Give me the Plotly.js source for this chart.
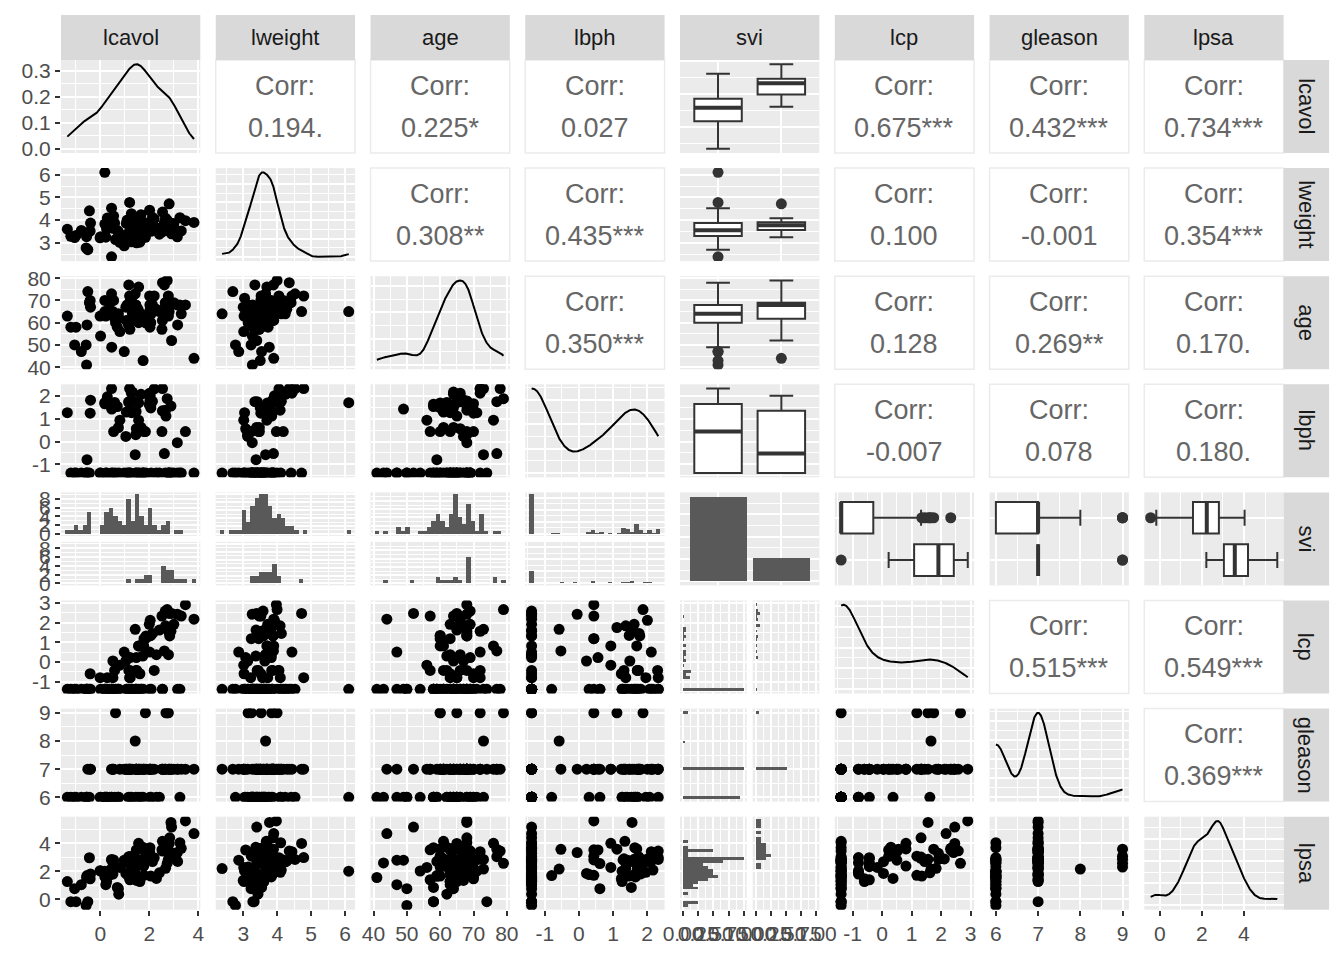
<!DOCTYPE html>
<html><head><meta charset="utf-8">
<script src="https://cdn.plot.ly/plotly-3.0.1.min.js"></script>
<style>html,body{margin:0;padding:0;background:#fff}</style>
</head><body><div id="chart" style="width:1344px;height:960px"></div>
<script>
// ---------------- data (prostate, 97 observations) ----------------
const varNames = ["lcavol","lweight","age","lbph","svi","lcp","gleason","lpsa"];
const lcavol = [-0.5798185,-0.9942523,-0.5108256,-1.2039728,0.7514161,-1.0498221,0.7371641,0.6931472,-0.7765288,0.2231436,
0.2546422,-1.3470736,1.6134299,1.4770487,1.2059708,1.5411591,-0.4155154,2.2884862,-0.5621189,0.1823216,
1.1474025,2.0592388,-0.5447272,1.7817091,0.3852624,1.4469190,0.5128236,-0.4004776,1.0402767,2.4096442,
0.2851789,0.1823216,1.2753628,0.0099503,-0.0100503,1.3083328,1.4231083,0.4574248,2.6609586,0.7975072,
0.6205765,1.4422020,0.5822156,1.7716568,1.4861397,1.6639261,2.7279944,1.1631508,1.7457155,1.2208299,
1.0919233,1.6601310,0.5128236,2.1270405,3.1535904,1.2669476,0.9745596,0.4637340,0.5423243,1.0612565,
0.4574248,1.9974177,2.7757089,2.0347056,2.0731719,1.4586150,2.0228712,2.1983351,-0.4462871,1.1939225,
1.8640801,1.1600209,1.2149127,1.8389611,2.9992262,3.1411305,2.0108950,2.5376572,2.6483924,2.7794402,
1.4678743,2.5136561,2.6130067,2.6775910,1.5623463,3.3028493,2.0241931,1.7316555,2.8075938,1.5623463,
3.2464910,2.5329028,2.8302678,3.8210036,2.9074474,2.8825636,3.4719665];
const lweight = [2.769459,3.319626,2.691243,3.282789,3.432373,3.228826,3.473518,3.539509,3.539509,3.244544,
3.604138,3.598681,3.022861,2.998229,3.442019,3.061052,3.516013,3.649359,3.267666,3.825375,
3.419365,3.501043,3.375880,3.451574,3.667400,3.124565,3.719651,3.865979,3.128951,3.375880,
4.090169,6.107580,3.037354,3.267666,3.216874,4.119850,3.657131,2.374906,4.085136,3.013081,
3.141995,3.682610,3.865979,3.896909,3.409496,3.392829,3.995445,4.035125,3.498022,3.568123,
3.993603,4.234831,3.633631,4.121473,3.516013,4.280132,2.865054,3.764682,4.178226,3.851211,
4.524502,3.719651,3.524889,3.917011,3.623007,3.836221,3.878466,4.050915,4.408547,4.780383,
3.593194,3.341093,3.825375,3.236716,3.849083,3.263849,4.433789,4.354784,3.582129,3.823192,
3.070376,3.473518,3.888754,3.838376,3.709907,3.518980,3.731699,3.369018,4.718052,3.695110,
4.101817,3.677566,3.876396,3.896909,3.396185,3.773910,3.974998];
const age = [50,58,74,58,62,50,64,58,47,63,
65,63,63,67,57,66,70,66,41,70,
59,60,59,63,69,68,65,67,67,65,
65,65,71,54,63,64,73,64,68,56,
60,68,62,61,66,61,79,68,43,70,
68,64,64,68,59,66,47,49,70,61,
73,63,72,66,64,61,68,72,69,72,
60,77,69,60,69,68,72,78,69,63,
66,57,77,65,60,64,58,62,65,76,
68,61,68,44,52,68,68];
const lbph = [-1.386294,-1.386294,-1.386294,-1.386294,-1.386294,-1.386294,0.6151856,1.5368672,-1.386294,-1.386294,
-1.386294,1.2669476,-1.386294,-1.386294,-1.386294,-1.386294,1.2441546,-1.386294,-1.386294,1.6582281,
-1.386294,1.4747630,-0.7985077,0.4382549,1.5993876,0.3001046,-1.386294,1.8164521,0.2231436,-1.386294,
1.9629077,1.7047481,1.2669476,-1.386294,-1.386294,2.1713368,-0.5798185,-1.386294,1.3737156,0.9360934,
-1.386294,-1.386294,1.7137979,-1.386294,1.7491998,0.6151856,1.8794650,1.7137979,-1.386294,1.3737156,
-1.386294,2.0731719,1.4929041,1.7664417,-1.386294,2.1222615,-1.386294,1.4231083,0.4382549,1.2947272,
2.3263016,1.6193882,-1.386294,2.0082140,-1.386294,1.3217558,1.7833912,2.3075726,-1.386294,2.3263016,
-1.386294,1.7491998,-1.386294,0.4382549,-1.386294,-0.0512933,2.1222615,2.3263016,-1.386294,-1.386294,
0.5596158,0.4382549,-0.5276327,1.1151416,1.6956156,-1.386294,1.6389967,-1.386294,-1.386294,0.9360934,
-1.386294,1.3480731,-1.386294,-1.386294,-1.386294,1.5581446,0.4382549];
const svi = [0,0,0,0,0,0,0,0,0,0,
0,0,0,0,0,0,0,0,0,0,
0,0,0,0,0,0,0,0,0,0,
0,0,0,0,0,0,0,0,1,0,
0,0,0,0,0,0,1,0,0,0,
0,0,0,0,0,0,0,0,0,0,
0,1,0,1,0,0,0,0,0,0,
1,0,1,1,1,1,0,0,1,0,
0,0,1,0,0,1,0,1,1,1,
0,1,1,1,1,1,1];
const lcp = [-1.386294,-1.386294,-1.386294,-1.386294,-1.386294,-1.386294,-1.386294,-1.386294,-1.386294,-1.386294,
-1.386294,-1.386294,-0.597837,-1.386294,-0.430783,-1.386294,-0.597837,0.371564,-1.386294,-1.386294,
-1.386294,1.348073,-1.386294,1.178655,-1.386294,-1.386294,-0.798508,-1.386294,0.048790,1.619388,
-0.798508,-1.386294,-1.386294,-1.386294,-0.798508,-1.386294,1.658228,-1.386294,1.832581,-0.162519,
-1.386294,-1.386294,-0.430783,0.810930,-0.430783,-1.386294,2.656757,-0.430783,-1.386294,-0.798508,
-1.386294,-1.386294,0.048790,1.446919,-1.386294,-1.386294,0.500775,-1.386294,-1.386294,-1.386294,
-1.386294,1.909543,1.558145,2.110213,-1.386294,-0.430783,1.321756,-0.430783,-1.386294,-0.798508,
1.321756,-1.386294,0.223144,1.178655,1.909543,2.420368,0.500775,-1.386294,2.583998,0.371564,
0.223144,2.327278,0.558615,1.749200,0.810930,2.327278,-1.386294,0.300105,2.463853,0.810930,
-1.386294,-1.386294,1.321756,2.169054,2.463853,1.558145,2.904165];
const gleason = [6,6,7,6,6,6,6,6,6,6,
6,6,7,7,7,6,7,6,6,6,
6,7,6,7,6,6,7,7,7,6,
6,6,6,6,6,7,8,7,7,7,
9,7,6,7,7,7,9,7,6,6,
7,6,7,7,7,7,7,6,7,7,
6,7,9,7,6,7,7,7,6,7,
7,7,7,9,7,7,7,7,7,7,
7,7,7,9,7,7,6,7,7,7,
6,7,7,7,7,7,7];
const lpsa = [-0.4307829,-0.1625189,-0.1625189,-0.1625189,0.3715636,0.7654678,0.7654678,0.8544153,1.0473190,1.0473190,
1.2669476,1.2669476,1.2669476,1.3480731,1.3987169,1.4469190,1.4701758,1.4929041,1.5581446,1.5993876,
1.6389967,1.6582281,1.6956156,1.7137979,1.7316555,1.7664417,1.8000583,1.8164521,1.8484548,1.8946169,
1.9242487,2.0082140,2.0082140,2.0215476,2.0476928,2.0856721,2.1575593,2.1916535,2.2137539,2.2772673,
2.2975726,2.3075726,2.3272777,2.3749058,2.5217206,2.5533438,2.5687881,2.5687881,2.5915164,2.5915164,
2.6567569,2.6775910,2.6844403,2.6912431,2.7047113,2.7180005,2.7880929,2.7942279,2.8063861,2.8124102,
2.8419982,2.8535925,2.8535925,2.8820035,2.8820035,2.8875901,2.9204698,2.9626924,2.9626924,2.9729753,
3.0130809,3.0373539,3.0563569,3.0750055,3.2752562,3.3375474,3.3928291,3.4355988,3.4578927,3.5130369,
3.5160131,3.5307626,3.5652984,3.5709402,3.5876769,3.6309855,3.6800909,3.7123518,3.9843437,3.9936030,
4.0298060,4.1295508,4.3851468,4.6844434,5.1431245,5.4775090,5.5829322];

// correlation labels of the upper panels
const corrRows = [0,0,0,0,0,0, 1,1,1,1,1, 2,2,2,2, 3,3,3, 5,5, 6];
const corrCols = [1,2,3,5,6,7, 2,3,5,6,7, 3,5,6,7, 5,6,7, 6,7, 7];
const corrText = ["0.194.","0.225*","0.027","0.675***","0.432***","0.734***",
  "0.308**","0.435***","0.100","-0.001","0.354***",
  "0.350***","0.128","0.269**","0.170.",
  "-0.007","0.078","0.180.",
  "0.515***","0.549***",
  "0.369***"];
// tick spacing of each continuous variable's axis
const tickStep = {lcavol:2, lweight:1, age:10, lbph:1, lcp:1, gleason:1, lpsa:2};
const sviLevels = [0,1];
const propLabels = ["0.00","0.25","0.50","0.75","1.00"];

// ---------------- helpers ----------------
const DATA = {lcavol, lweight, age, lbph, svi, lcp, gleason, lpsa};
const W = 1344, H = 960;
const X0 = 61, PITCHX = 154.76, PW = 139.3;
const Y0 = 60, PITCHY = 108.1, PH = 93;
const colL = c => X0 + c*PITCHX;
const rowT = r => Y0 + r*PITCHY;
const FONT = '"Liberation Sans", Arial, Helvetica, sans-serif';
const GRID = '#FFFFFF', PANEL = '#EBEBEB', DARK = '#333333', BAR = '#595959';
const TICKSIZE = 21, STRIPSIZE = 22, CORRSIZE = 27;

const minOf = a => Math.min(...a), maxOf = a => Math.max(...a);
function expRange(a){ const mn=minOf(a), mx=maxOf(a), s=mx-mn; return [mn-0.05*s, mx+0.05*s]; }
function q7(sorted,p){ const h=(sorted.length-1)*p, lo=Math.floor(h); const hi=Math.min(lo+1,sorted.length-1); return sorted[lo]+(h-lo)*(sorted[hi]-sorted[lo]); }
function niceStep(span){ let best=null; for(let e=-6;e<=6;e++){ for(const c of [1,2,2.5,5]){ const s=c*Math.pow(10,e); if(span/s<=5.0001 && (best===null||s<best)) best=s; } } return best; }
function decimals(step){ let d=0; while(Math.abs(Math.round(step*Math.pow(10,d))-step*Math.pow(10,d))>1e-9 && d<8) d++; return d; }
function kde(x){
  const n=x.length, s=[...x].sort((a,b)=>a-b);
  const mean=x.reduce((a,b)=>a+b,0)/n;
  const sd=Math.sqrt(x.reduce((a,b)=>a+(b-mean)*(b-mean),0)/(n-1));
  const iqr=q7(s,0.75)-q7(s,0.25);
  let lo=Math.min(sd, iqr/1.34); if(!(lo>0)) lo = sd || 1;
  const bw=0.9*lo*Math.pow(n,-0.2);
  const mn=s[0], mx=s[n-1], gx=[], gy=[];
  for(let i=0;i<512;i++){
    const g=mn+(mx-mn)*i/511; let sum=0;
    for(const v of x){ const z=(g-v)/bw; sum+=Math.exp(-0.5*z*z); }
    gx.push(g); gy.push(sum/(n*bw*Math.sqrt(2*Math.PI)));
  }
  return {x:gx, y:gy};
}
function binSpec(x){ const mn=minOf(x), mx=maxOf(x); const w=(mx-mn)/29; const start=mn-w/2+1e-7*w; return {start, end:start+30*w, size:w}; }
function binCounts(x, spec){ const c=new Array(30).fill(0); for(const v of x){ let k=Math.floor((v-spec.start)/spec.size); k=Math.max(0,Math.min(29,k)); c[k]++; } return c; }
const bySvi = (vals, lev) => vals.filter((v,i)=>svi[i]===lev);
function median(a){ return q7([...a].sort((p,q)=>p-q),0.5); }

const traces = [], shapes = [], annotations = [];
const layout = {
  width:W, height:H, margin:{l:0,r:0,t:0,b:0}, showlegend:false,
  paper_bgcolor:'#FFFFFF', plot_bgcolor:PANEL,
  font:{family:FONT, color:'#4D4D4D'},
  shapes, annotations
};
let axN = 0;
function px2x(p){ return p/W; }
function px2y(p){ return 1-p/H; }
function linAxis(range, step){
  return {range, tickmode:'linear', tick0:0, dtick:step,
    showgrid:true, gridcolor:GRID, gridwidth:2, zeroline:false, showline:false,
    ticks:'', showticklabels:false, fixedrange:true,
    minor:{tick0:0, dtick:step/2, showgrid:true, gridcolor:GRID, gridwidth:1, ticks:''}};
}
function catAxis(range){
  return {range, tickmode:'array', tickvals:sviLevels, ticktext:sviLevels.map(String),
    showgrid:true, gridcolor:GRID, gridwidth:2, zeroline:false, showline:false,
    ticks:'', showticklabels:false, fixedrange:true};
}
function labelled(ax){
  if(ax.tickmode==='linear'){
    // explicit labels so negative numbers use an ASCII hyphen, as in the chart
    const st = ax.dtick, dec = decimals(st), lo = Math.min(...ax.range), hi = Math.max(...ax.range);
    const vals = [];
    for(let v=Math.ceil(lo/st-1e-9)*st; v<=hi+1e-9; v+=st) vals.push(Math.round(v/st)*st);
    ax.tickmode = 'array'; ax.tickvals = vals; ax.ticktext = vals.map(v=>(Math.abs(v)<1e-12?0:v).toFixed(dec));
    delete ax.tick0; delete ax.dtick;
  }
  return Object.assign(ax, {ticks:'outside', ticklen:5, tickwidth:2, tickcolor:DARK, tickangle:0,
    showticklabels:true, tickfont:{family:FONT, size:TICKSIZE, color:'#4D4D4D'}});
}
function addAxes(l, t, w, h, xa, ya){
  axN++;
  const id = axN===1 ? '' : String(axN);
  layout['xaxis'+id] = Object.assign(xa, {domain:[px2x(l), px2x(l+w)], anchor:'y'+id});
  layout['yaxis'+id] = Object.assign(ya, {domain:[px2y(t+h), px2y(t)], anchor:'x'+id});
  return {xaxis:'x'+id, yaxis:'y'+id};
}
const isLeft = c => c===0, isBottom = r => r===7;

// ---------------- panels ----------------
for(let r=0;r<8;r++){
  for(let c=0;c<8;c++){
    const rv = varNames[r], cv = varNames[c];
    const L = colL(c), T = rowT(r);
    const k = corrRows.findIndex((rr,kk)=>rr===r && corrCols[kk]===c);
    if(k>=0){
      shapes.push({type:'rect', xref:'paper', yref:'paper', x0:px2x(L), x1:px2x(L+PW), y0:px2y(T+PH), y1:px2y(T),
        fillcolor:'#FFFFFF', line:{color:PANEL, width:1.5}, layer:'below'});
      annotations.push({xref:'paper', yref:'paper', x:px2x(L+PW/2), y:px2y(T+PH/2-21), text:'Corr:', showarrow:false,
        xanchor:'center', yanchor:'middle', font:{family:FONT, size:CORRSIZE, color:'#666666'}});
      annotations.push({xref:'paper', yref:'paper', x:px2x(L+PW/2), y:px2y(T+PH/2+21), text:corrText[k], showarrow:false,
        xanchor:'center', yanchor:'middle', font:{family:FONT, size:CORRSIZE, color:'#666666'}});
      continue;
    }
    if(r===c && cv!=='svi'){
      const d = kde(DATA[cv]); const dm = maxOf(d.y); const st = niceStep(dm);
      const xa = linAxis(expRange(DATA[cv]), tickStep[cv]);
      const ya = linAxis([-0.05*dm, 1.05*dm], st);
      if(isLeft(c)) labelled(ya); if(isBottom(r)) labelled(xa);
      const a = addAxes(L, T, PW, PH, xa, ya);
      traces.push(Object.assign({type:'scatter', mode:'lines', x:d.x, y:d.y, line:{color:'#000000', width:2}, hoverinfo:'skip'}, a));
      continue;
    }
    if(r===c){
      const counts = sviLevels.map(l=>svi.filter(v=>v===l).length); const m = maxOf(counts);
      const xa = catAxis([-0.6,1.6]);
      const ya = linAxis([-0.05*m, 1.05*m], niceStep(m));
      const a = addAxes(L, T, PW, PH, xa, ya);
      traces.push(Object.assign({type:'bar', x:sviLevels, y:counts, width:0.9, marker:{color:BAR, line:{width:0}}, hoverinfo:'skip'}, a));
      continue;
    }
    if(cv==='svi' && r<c){
      const xa = catAxis([-0.6,1.6]);
      const ya = linAxis(expRange(DATA[rv]), tickStep[rv]);
      const a = addAxes(L, T, PW, PH, xa, ya);
      sviLevels.forEach(l=>{
        const vals = bySvi(DATA[rv], l);
        traces.push(Object.assign({type:'box', y:vals, x0:l, width:0.75, boxpoints:'outliers', jitter:0, pointpos:0,
          fillcolor:'#FFFFFF', line:{color:DARK, width:2}, marker:{color:DARK, size:11, line:{width:0}}, hoverinfo:'skip'}, a));
        const md = median(vals);
        traces.push(Object.assign({type:'scatter', mode:'lines', x:[l-0.375, l+0.375], y:[md, md], line:{color:DARK, width:4}, hoverinfo:'skip'}, a));
      });
      continue;
    }
    if(rv==='svi' && c>r){
      const xa = linAxis(expRange(DATA[cv]), tickStep[cv]);
      const ya = catAxis([1.6,-0.6]);
      const a = addAxes(L, T, PW, PH, xa, ya);
      sviLevels.forEach(l=>{
        const vals = bySvi(DATA[cv], l);
        traces.push(Object.assign({type:'box', x:vals, y0:l, orientation:'h', width:0.75, boxpoints:'outliers', jitter:0, pointpos:0,
          fillcolor:'#FFFFFF', line:{color:DARK, width:2}, marker:{color:DARK, size:11, line:{width:0}}, hoverinfo:'skip'}, a));
        const md = median(vals);
        traces.push(Object.assign({type:'scatter', mode:'lines', y:[l-0.375, l+0.375], x:[md, md], line:{color:DARK, width:4}, hoverinfo:'skip'}, a));
      });
      continue;
    }
    if(rv==='svi'){
      const spec = binSpec(DATA[cv]);
      const m = Math.max(...sviLevels.map(l=>maxOf(binCounts(bySvi(DATA[cv],l), spec))));
      const st = niceStep(m);
      const fh = (PH-6)/2;
      sviLevels.forEach((l,i)=>{
        const xa = linAxis(expRange(DATA[cv]), tickStep[cv]);
        const ya = linAxis([-0.05*m, 1.05*m], st);
        if(isLeft(c)) labelled(ya);
        const a = addAxes(L, T+i*(fh+6), PW, fh, xa, ya);
        traces.push(Object.assign({type:'histogram', x:bySvi(DATA[cv],l), autobinx:false, xbins:spec,
          marker:{color:BAR, line:{width:0}}, hoverinfo:'skip'}, a));
      });
      continue;
    }
    if(cv==='svi'){
      const spec = binSpec(DATA[rv]);
      const m = Math.max(...sviLevels.map(l=>maxOf(binCounts(bySvi(DATA[rv],l), spec))));
      const fw = (PW-6)/2;
      sviLevels.forEach((l,i)=>{
        const xa = {range:[-0.05*m, 1.05*m], tickmode:'array', tickvals:[0,0.25*m,0.5*m,0.75*m,m], ticktext:propLabels,
          showgrid:true, gridcolor:GRID, gridwidth:2, zeroline:false, showline:false, ticks:'', showticklabels:false, fixedrange:true,
          minor:{tickmode:'array', tickvals:[0.125*m,0.375*m,0.625*m,0.875*m], showgrid:true, gridcolor:GRID, gridwidth:1, ticks:''}};
        const ya = linAxis(expRange(DATA[rv]), tickStep[rv]);
        if(isBottom(r)) labelled(xa);
        const a = addAxes(L+i*(fw+6), T, fw, PH, xa, ya);
        traces.push(Object.assign({type:'histogram', y:bySvi(DATA[rv],l), autobiny:false, ybins:spec, orientation:'h',
          marker:{color:BAR, line:{width:0}}, hoverinfo:'skip'}, a));
      });
      continue;
    }
    const xa = linAxis(expRange(DATA[cv]), tickStep[cv]);
    const ya = linAxis(expRange(DATA[rv]), tickStep[rv]);
    if(isLeft(c)) labelled(ya); if(isBottom(r)) labelled(xa);
    const a = addAxes(L, T, PW, PH, xa, ya);
    traces.push(Object.assign({type:'scatter', mode:'markers', x:DATA[cv], y:DATA[rv],
      marker:{color:'#000000', size:11, line:{width:0}}, hoverinfo:'skip'}, a));
  }
}

// ---------------- strips ----------------
varNames.forEach((v,c)=>{
  const L = colL(c);
  shapes.push({type:'rect', xref:'paper', yref:'paper', x0:px2x(L), x1:px2x(L+PW), y0:px2y(60), y1:px2y(15),
    fillcolor:'#D9D9D9', line:{width:0}, layer:'below'});
  annotations.push({xref:'paper', yref:'paper', x:px2x(L+PW/2), y:px2y(37.5), text:v, showarrow:false,
    xanchor:'center', yanchor:'middle', font:{family:FONT, size:STRIPSIZE, color:'#1A1A1A'}});
});
varNames.forEach((v,r)=>{
  const T = rowT(r), SL = colL(7)+PW;
  shapes.push({type:'rect', xref:'paper', yref:'paper', x0:px2x(SL), x1:px2x(SL+45.5), y0:px2y(T+PH), y1:px2y(T),
    fillcolor:'#D9D9D9', line:{width:0}, layer:'below'});
  annotations.push({xref:'paper', yref:'paper', x:px2x(SL+22.75), y:px2y(T+PH/2), text:v, showarrow:false, textangle:90,
    xanchor:'center', yanchor:'middle', font:{family:FONT, size:STRIPSIZE, color:'#1A1A1A'}});
});

Plotly.newPlot('chart', traces, layout, {staticPlot:true, displayModeBar:false});
</script>
</body></html>
